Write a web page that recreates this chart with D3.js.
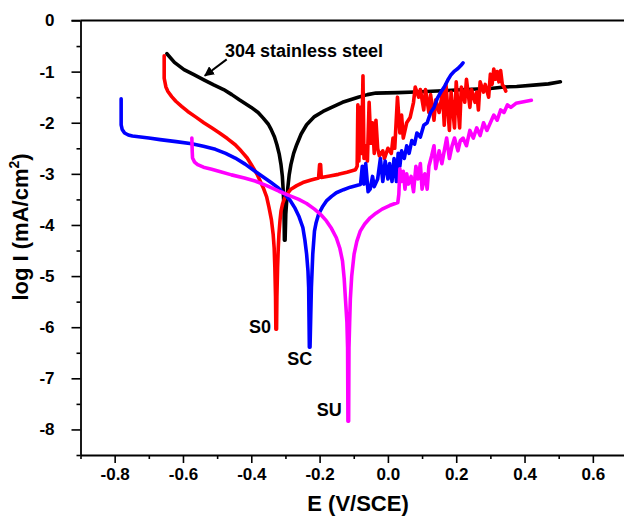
<!DOCTYPE html>
<html><head><meta charset="utf-8">
<script src="https://cdn.jsdelivr.net/npm/d3@7"></script>
<style>body{margin:0;background:#fff}svg{display:block}text{font-family:Arial,"Liberation Sans",sans-serif;font-weight:bold}</style>
</head><body><svg id="c" width="624" height="517"></svg>
<script>
// [E (V/SCE), log I]
const ss304 = [[-0.647,-0.65],[-0.625,-0.82],[-0.597,-0.96],[-0.568,-1.06],[-0.539,-1.16],[-0.510,-1.26],[-0.481,-1.35],[-0.457,-1.45],[-0.435,-1.55],[-0.400,-1.70],[-0.380,-1.80],[-0.365,-1.91],[-0.350,-2.03],[-0.342,-2.13],[-0.332,-2.28],[-0.325,-2.43],[-0.318,-2.62],[-0.313,-2.82],[-0.309,-3.05],[-0.307,-3.27],[-0.305,-3.55],[-0.304,-3.79],[-0.303,-4.30],[-0.301,-4.30],[-0.299,-3.79],[-0.296,-3.50],[-0.293,-3.27],[-0.289,-3.02],[-0.284,-2.82],[-0.276,-2.60],[-0.267,-2.43],[-0.254,-2.22],[-0.238,-2.04],[-0.215,-1.88],[-0.190,-1.78],[-0.168,-1.71],[-0.133,-1.60],[-0.110,-1.55],[-0.087,-1.50],[-0.060,-1.45],[-0.035,-1.42],[0.029,-1.41],[0.080,-1.40],[0.145,-1.38],[0.200,-1.36],[0.261,-1.34],[0.300,-1.33],[0.340,-1.30],[0.377,-1.29],[0.435,-1.26],[0.470,-1.24],[0.505,-1.20]];
const s0 = [[-0.655,-0.69],[-0.655,-1.13],[-0.650,-1.30],[-0.644,-1.39],[-0.633,-1.49],[-0.621,-1.58],[-0.604,-1.68],[-0.586,-1.78],[-0.562,-1.89],[-0.539,-2.00],[-0.516,-2.10],[-0.493,-2.20],[-0.470,-2.31],[-0.447,-2.43],[-0.430,-2.55],[-0.412,-2.69],[-0.398,-2.84],[-0.383,-3.01],[-0.365,-3.27],[-0.355,-3.45],[-0.348,-3.66],[-0.341,-3.90],[-0.336,-4.18],[-0.333,-4.45],[-0.331,-4.83],[-0.329,-5.40],[-0.328,-6.04],[-0.326,-6.04],[-0.325,-5.40],[-0.323,-4.83],[-0.321,-4.45],[-0.319,-4.18],[-0.316,-3.92],[-0.313,-3.73],[-0.308,-3.58],[-0.302,-3.47],[-0.292,-3.37],[-0.284,-3.30],[-0.267,-3.23],[-0.249,-3.17],[-0.225,-3.12],[-0.203,-3.08],[-0.200,-2.82],[-0.197,-2.82],[-0.195,-3.07],[-0.170,-3.04],[-0.145,-3.01],[-0.120,-2.97],[-0.095,-2.92],[-0.090,-2.85],[-0.088,-1.65],[-0.085,-2.75],[-0.080,-1.70],[-0.077,-2.60],[-0.073,-1.08],[-0.070,-2.70],[-0.065,-2.45],[-0.060,-2.75],[-0.055,-1.60],[-0.050,-2.40],[-0.045,-2.00],[-0.040,-2.60],[-0.035,-1.95],[-0.030,-2.50],[-0.025,-2.65],[-0.015,-2.55],[-0.010,-2.70],[0.000,-2.50],[0.010,-2.60],[0.015,-2.30],[0.020,-2.50],[0.028,-1.50],[0.035,-2.20],[0.040,-1.85],[0.045,-2.30],[0.055,-2.00],[0.065,-1.90],[0.075,-1.60],[0.080,-1.30],[0.090,-1.50],[0.095,-1.35],[0.105,-1.75],[0.110,-1.35],[0.120,-1.80],[0.125,-1.45],[0.135,-1.95],[0.140,-1.55],[0.150,-1.80],[0.160,-1.40],[0.165,-2.05],[0.170,-1.25],[0.180,-2.15],[0.185,-1.40],[0.195,-2.10],[0.200,-1.20],[0.210,-2.10],[0.215,-1.30],[0.225,-1.60],[0.230,-1.15],[0.240,-1.70],[0.245,-1.35],[0.255,-1.60],[0.260,-1.40],[0.265,-1.75],[0.270,-1.20],[0.280,-1.40],[0.285,-1.25],[0.295,-1.50],[0.300,-1.05],[0.305,-1.25],[0.310,-0.95],[0.315,-1.15],[0.320,-1.00],[0.325,-1.20],[0.330,-0.98],[0.335,-1.25],[0.340,-1.30],[0.345,-1.38]];
const sc = [[-0.781,-1.53],[-0.781,-2.04],[-0.778,-2.13],[-0.771,-2.20],[-0.760,-2.24],[-0.748,-2.26],[-0.700,-2.30],[-0.667,-2.33],[-0.620,-2.37],[-0.574,-2.41],[-0.540,-2.46],[-0.505,-2.52],[-0.475,-2.60],[-0.447,-2.69],[-0.418,-2.81],[-0.389,-2.95],[-0.365,-3.06],[-0.342,-3.17],[-0.320,-3.28],[-0.302,-3.40],[-0.286,-3.52],[-0.273,-3.66],[-0.260,-3.84],[-0.249,-4.05],[-0.243,-4.30],[-0.238,-4.57],[-0.234,-4.90],[-0.232,-5.22],[-0.231,-5.80],[-0.230,-6.39],[-0.228,-6.39],[-0.226,-5.80],[-0.224,-5.22],[-0.222,-4.90],[-0.220,-4.57],[-0.217,-4.30],[-0.215,-4.12],[-0.210,-3.95],[-0.203,-3.79],[-0.192,-3.65],[-0.180,-3.53],[-0.165,-3.44],[-0.151,-3.37],[-0.130,-3.31],[-0.110,-3.26],[-0.081,-3.21],[-0.080,-3.20],[-0.075,-2.85],[-0.070,-3.20],[-0.065,-2.80],[-0.058,-3.35],[-0.052,-3.30],[-0.045,-3.05],[-0.040,-3.25],[-0.030,-3.10],[-0.022,-2.70],[-0.015,-3.15],[-0.008,-2.75],[0.000,-3.10],[0.005,-2.80],[0.012,-3.15],[0.018,-2.70],[0.025,-3.15],[0.030,-2.60],[0.035,-2.85],[0.040,-2.55],[0.048,-2.70],[0.055,-2.45],[0.062,-2.60],[0.070,-2.35],[0.078,-2.42],[0.085,-2.20],[0.095,-2.28],[0.105,-2.05],[0.115,-2.00],[0.125,-1.80],[0.135,-1.70],[0.145,-1.52],[0.155,-1.40],[0.165,-1.30],[0.175,-1.17],[0.185,-1.06],[0.195,-0.99],[0.205,-0.94],[0.215,-0.87],[0.220,-0.83]];
const su = [[-0.574,-2.30],[-0.573,-2.55],[-0.572,-2.69],[-0.566,-2.77],[-0.557,-2.82],[-0.540,-2.87],[-0.516,-2.91],[-0.490,-2.96],[-0.458,-3.02],[-0.420,-3.08],[-0.389,-3.14],[-0.355,-3.23],[-0.319,-3.34],[-0.290,-3.42],[-0.261,-3.50],[-0.238,-3.58],[-0.215,-3.69],[-0.196,-3.80],[-0.180,-3.92],[-0.165,-4.07],[-0.151,-4.25],[-0.141,-4.45],[-0.133,-4.70],[-0.128,-5.05],[-0.124,-5.48],[-0.120,-5.90],[-0.118,-6.40],[-0.117,-7.84],[-0.115,-7.84],[-0.114,-6.40],[-0.112,-5.90],[-0.110,-5.45],[-0.106,-5.00],[-0.099,-4.57],[-0.091,-4.32],[-0.081,-4.12],[-0.068,-3.98],[-0.052,-3.86],[-0.035,-3.77],[-0.017,-3.69],[0.005,-3.62],[0.029,-3.56],[0.032,-3.40],[0.035,-2.90],[0.040,-3.15],[0.045,-2.95],[0.050,-3.30],[0.055,-3.00],[0.060,-3.20],[0.068,-3.05],[0.075,-3.35],[0.082,-2.85],[0.088,-3.10],[0.095,-2.80],[0.100,-3.30],[0.108,-3.00],[0.115,-3.30],[0.120,-2.85],[0.128,-2.65],[0.135,-2.45],[0.140,-2.90],[0.150,-2.55],[0.158,-2.80],[0.165,-2.55],[0.172,-2.30],[0.180,-2.70],[0.188,-2.45],[0.195,-2.30],[0.205,-2.55],[0.212,-2.35],[0.220,-2.30],[0.230,-2.45],[0.240,-2.15],[0.250,-2.30],[0.260,-2.10],[0.270,-2.25],[0.280,-2.00],[0.290,-2.15],[0.300,-2.00],[0.310,-1.85],[0.320,-1.95],[0.330,-1.75],[0.340,-1.80],[0.350,-1.65],[0.360,-1.70],[0.375,-1.62],[0.390,-1.60],[0.405,-1.58],[0.420,-1.56]];
const xTicks = [-0.8,-0.6,-0.4,-0.2,0.0,0.2,0.4,0.6];
const yTicks = [0,-1,-2,-3,-4,-5,-6,-7,-8];
const seriesNames = ["304 stainless steel","S0","SC","SU"];
const seriesColors = ["#000000","#ff0000","#0000ff","#ff00ff"];

const svg = d3.select("#c");
const x = d3.scaleLinear().domain([-0.9,0.7]).range([80.5,627]);
const y = d3.scaleLinear().domain([-8.5,0]).range([455,20.5]);
const hy = s => s.replace("\u2212","-");

// axes
const xMinor = d3.range(-9,7).map(d=>d/10).filter(d=>!xTicks.some(t=>Math.abs(t-d)<1e-9));
const yMinor = d3.range(0,18).map(d=>-d/2).filter(d=>!yTicks.some(t=>Math.abs(t-d)<1e-9));
const gx = svg.append("g").attr("transform","translate(0,455)")
  .call(d3.axisBottom(x).tickValues(xMinor).tickSize(4).tickFormat(""));
const gx2 = svg.append("g").attr("transform","translate(0,455)")
  .call(d3.axisBottom(x).tickValues(xTicks).tickSize(8).tickSizeOuter(0).tickPadding(5).tickFormat(d=>hy(d3.format(".1f")(d))));
const gy = svg.append("g").attr("transform","translate(80.5,0)")
  .call(d3.axisLeft(y).tickValues(yMinor).tickSize(4).tickFormat(""));
const gy2 = svg.append("g").attr("transform","translate(80.5,0)")
  .call(d3.axisLeft(y).tickValues(yTicks).tickSize(9).tickSizeOuter(0).tickPadding(17).tickFormat(d=>hy(d3.format("d")(d))));
svg.selectAll(".domain").attr("stroke","#000").attr("stroke-width",1.8);
svg.selectAll(".tick line").attr("stroke","#000").attr("stroke-width",1.6);
svg.selectAll(".tick text").attr("font-size",17).attr("font-weight","bold").attr("fill","#000").attr("font-family","Arial, 'Liberation Sans', sans-serif");
gx.select(".domain").remove(); gy.select(".domain").remove();
// top frame
svg.append("line").attr("x1",x(-0.9)).attr("x2",x(0.7)).attr("y1",y(0)).attr("y2",y(0)).attr("stroke","#000").attr("stroke-width",1.8);
svg.append("line").attr("x1",x(-0.9)-9).attr("x2",x(-0.9)).attr("y1",y(0)).attr("y2",y(0)).attr("stroke","#000").attr("stroke-width",1.6);

// curves
const line = d3.line().x(d=>x(d[0])).y(d=>y(d[1])).curve(d3.curveLinear);
[ss304,s0,sc,su].forEach((s,i)=>{
  svg.append("path").datum(s).attr("d",line).attr("fill","none")
    .attr("stroke",seriesColors[i]).attr("stroke-width",3.6).attr("stroke-linejoin","round").attr("stroke-linecap","round");
});

// annotations
svg.append("defs").append("marker").attr("id","ah").attr("viewBox","0 0 10 10").attr("refX",9).attr("refY",5)
  .attr("markerWidth",5).attr("markerHeight",5).attr("orient","auto")
  .append("path").attr("d","M0,0L10,5L0,10z").attr("fill","#000");
svg.append("line").attr("x1",x(-0.472)).attr("y1",y(-0.76)).attr("x2",x(-0.536)).attr("y2",y(-1.08))
  .attr("stroke","#000").attr("stroke-width",2).attr("marker-end","url(#ah)");
svg.append("text").attr("x",x(-0.477)).attr("y",y(-0.71)).attr("font-size",18).text(seriesNames[0]);
svg.append("text").attr("x",x(-0.342)).attr("y",y(-6.12)).attr("font-size",18).attr("text-anchor","end").text(seriesNames[1]);
svg.append("text").attr("x",x(-0.295)).attr("y",y(-6.74)).attr("font-size",18).text(seriesNames[2]);
svg.append("text").attr("x",x(-0.208)).attr("y",y(-7.73)).attr("font-size",18).text(seriesNames[3]);

// axis titles
svg.append("text").attr("x",358).attr("y",511).attr("text-anchor","middle").attr("font-size",22).text("E (V/SCE)");
const yt = svg.append("text").attr("transform","translate(28,227) rotate(-90)").attr("text-anchor","middle").attr("font-size",22);
yt.append("tspan").text("log I (mA/cm");
yt.append("tspan").attr("font-size",14).attr("dy",-9).text("2");
yt.append("tspan").attr("dy",9).text(")");
</script></body></html>
